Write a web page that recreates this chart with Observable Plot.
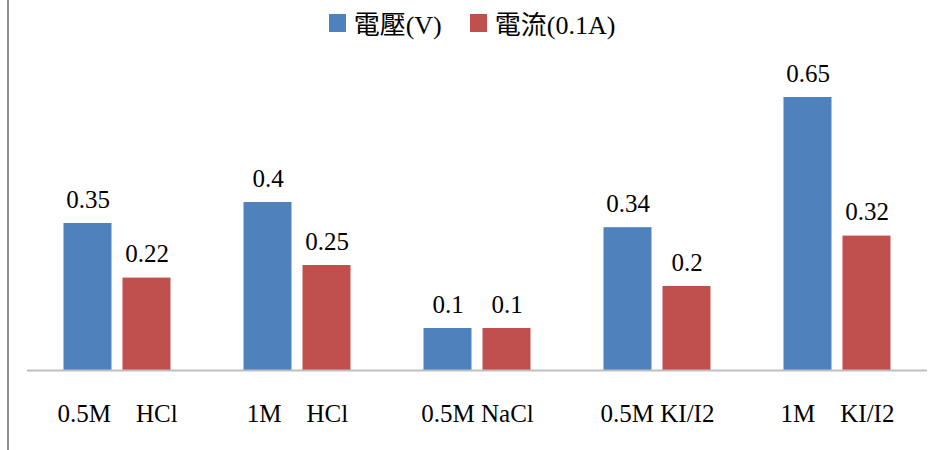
<!DOCTYPE html>
<html>
<head>
<meta charset="utf-8">
<script src="https://cdn.jsdelivr.net/npm/d3@7"></script>
<script src="https://cdn.jsdelivr.net/npm/@observablehq/plot@0.6"></script>
<style>
  html, body { margin: 0; padding: 0; background: #fff; }
  #wrap { position: relative; width: 934px; height: 450px; overflow: hidden;
          font-family: "Liberation Serif", "Times New Roman", serif; }
  #vline { position: absolute; left: 7px; top: 0; width: 2px; height: 450px; background: #8e8e8e; }
  #legend { height: 45px; display: flex; justify-content: center; align-items: center;
            font-size: 26px; color: #000; padding-left: 10px; }
  .item { display: flex; align-items: center; margin: 0 14px; }
  .sw { width: 17px; height: 18px; margin-right: 8px; }
  .zh { font-family: "Noto Sans CJK TC", sans-serif; font-size: 26px; }
</style>
</head>
<body>
<div id="wrap">
  <div id="vline"></div>
  <div id="legend"></div>
  <div id="chart"></div>
</div>
<script>
const categories = ["0.5M    HCl", "1M    HCl", "0.5M NaCl", "0.5M KI/I2", "1M    KI/I2"];
const seriesNames = ["電壓(V)", "電流(0.1A)"];
const seriesColors = ["#4F81BD", "#C0504D"];
const voltage = [0.35, 0.4, 0.1, 0.34, 0.65];
const current = [0.22, 0.25, 0.1, 0.2, 0.32];

const data = [];
categories.forEach((c, i) => {
  data.push({cat: c, series: seriesNames[0], value: voltage[i]});
  data.push({cat: c, series: seriesNames[1], value: current[i]});
});

// legend
const legend = document.getElementById("legend");
seriesNames.forEach((s, i) => {
  const item = document.createElement("div");
  item.className = "item";
  const sw = document.createElement("div");
  sw.className = "sw";
  sw.style.background = seriesColors[i];
  const lab = document.createElement("span");
  const m = s.match(/^([^\(]+)(\(.*\))$/);
  const zh = document.createElement("span");
  zh.className = "zh";
  zh.textContent = m[1];
  const en = document.createElement("span");
  en.textContent = m[2];
  lab.appendChild(zh); lab.appendChild(en);
  item.appendChild(sw); item.appendChild(lab);
  legend.appendChild(item);
});

const nb = s => s.replace(/ /g, "\u00a0");
const serif = "'Liberation Serif', 'Times New Roman', serif";

const chart = Plot.plot({
  width: 934,
  height: 405,
  marginTop: 10,
  marginBottom: 80,
  marginLeft: 26.5,
  marginRight: 7.5,
  style: `font-family: ${serif}; font-size: 25px; color: #000; background: transparent;`,
  fx: {domain: categories, padding: 0, label: null},
  x: {domain: seriesNames, paddingInner: 11/60, paddingOuter: 0.5917, axis: null},
  y: {domain: [0, 0.75], axis: null},
  color: {domain: seriesNames, range: seriesColors},
  marks: [
    Plot.barY(data, {fx: "cat", x: "series", y: "value", fill: "series"}),
    Plot.ruleY([0], {stroke: "#bfbfbf", strokeWidth: 2}),
    Plot.text(data, {fx: "cat", x: "series", y: "value", text: d => String(d.value), dy: -24, fill: "#000", fontSize: 25, fontFamily: serif}),
    Plot.axisFx({anchor: "bottom", tickSize: 0, tickPadding: 34, tickFormat: nb, fontSize: 25, fontFamily: serif, label: null})
  ]
});
document.getElementById("chart").appendChild(chart);
</script>
</body>
</html>
